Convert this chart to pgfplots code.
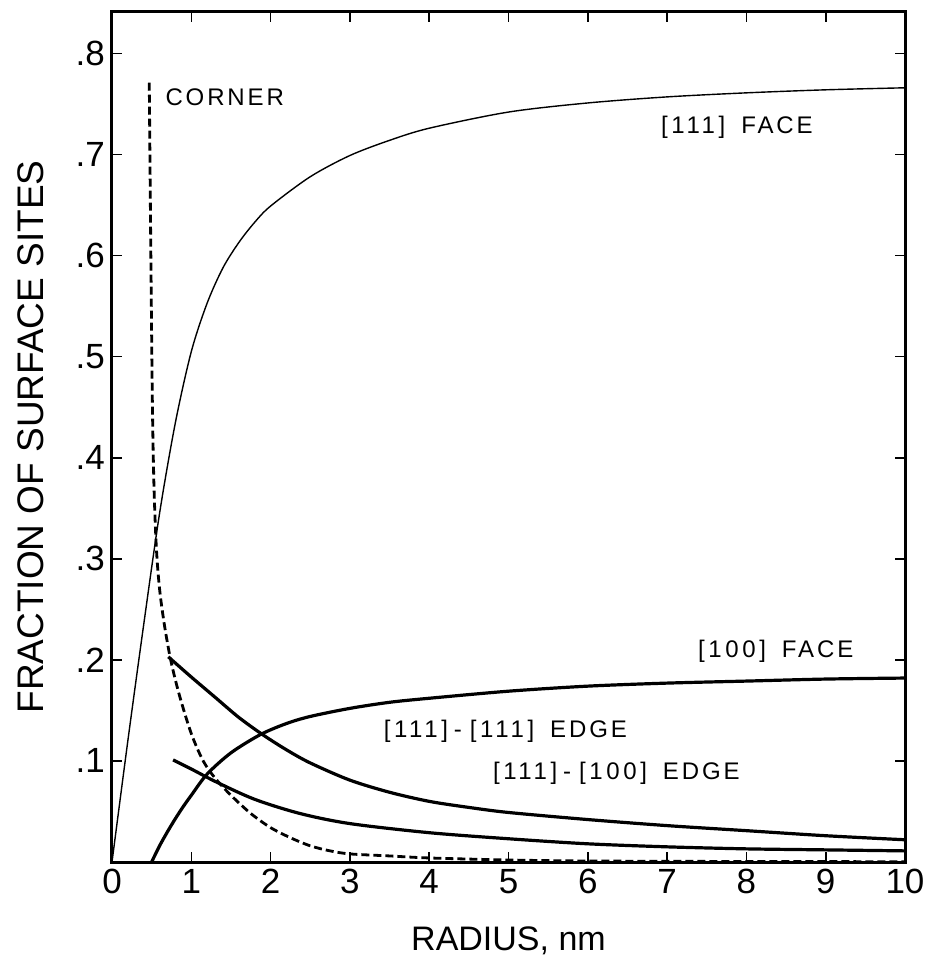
\documentclass[border=0pt]{standalone}
\usepackage{pgfplots}
\pgfplotsset{compat=1.18}
\usepackage{fontspec}
\setmainfont{Liberation Sans}
\newfontfamily\labfont[LetterSpace=12]{Liberation Sans}
\newfontfamily\brfont[LetterSpace=15]{Liberation Sans}
\newcommand{\br}[1]{{\brfont\fontsize{12}{14}\selectfont #1}}
\begin{document}
\begin{tikzpicture}
\begin{axis}[
 width=396.5pt, height=425pt, scale only axis,
 xmin=0, xmax=10, ymin=0, ymax=0.841,
 axis line style={line width=1.5pt},
 tick style={line width=0.8pt, black},
 major tick length=5pt,
 tick align=inside,
 tick pos=both, ticklabel pos=left,
 xtick={0,1,2,3,4,5,6,7,8,9,10}, xticklabels={0,1,2,3,4,5,6,7,8,9,10},
 ytick={0.1,0.2,0.3,0.4,0.5,0.6,0.7,0.8}, yticklabels={.1,.2,.3,.4,.5,.6,.7,.8},
 ticklabel style={font=\fontsize{17.5}{20}\selectfont},
 xlabel={RADIUS, nm}, ylabel={FRACTION OF SURFACE SITES},
 every axis x label/.style={at={(axis description cs:0.5,0)}, yshift=-39.5pt, anchor=center, font=\fontsize{17}{20}\selectfont},
 every axis y label/.style={at={(axis description cs:0,0.5)}, xshift=-40.5pt, rotate=90, anchor=center, font=\fontsize{18.5}{20}\selectfont},
]
% [111] face (thin)
\addplot[black, line width=0.7pt, smooth] coordinates {
(0,0) (0.2,0.12) (0.4,0.235) (0.6,0.345) (0.8,0.435) (1.0,0.505) (1.2,0.553) (1.4,0.588) (1.6,0.613) (1.8,0.633) (2.0,0.649) (2.5,0.678) (3,0.699) (3.5,0.714) (4,0.726) (5,0.742) (6,0.751) (7,0.757) (8,0.761) (9,0.764) (10,0.766)};
% corner (dashed)
\addplot[black, line width=1.4pt, dash pattern=on 4pt off 2pt, smooth, tension=0.5] coordinates {
(0.47,0.771) (0.49,0.6) (0.51,0.45) (0.53,0.37) (0.56,0.31) (0.6,0.27) (0.66,0.235) (0.74,0.2) (0.85,0.165) (1.0,0.127) (1.15,0.10) (1.3,0.083) (1.5,0.066) (1.75,0.048) (2.0,0.034) (2.25,0.024) (2.5,0.016) (2.75,0.011) (3.0,0.008) (3.5,0.006) (4.0,0.004) (5.0,0.002) (6,0.001) (8,0.0005) (10,0.0003)};
% [100] face
\addplot[black, line width=1.6pt, smooth] coordinates {
(0.5,0) (0.6,0.016) (0.7,0.03) (0.8,0.043) (0.9,0.055) (1.0,0.066) (1.2,0.087) (1.5,0.108) (1.87,0.126) (2.2,0.137) (2.5,0.144) (3,0.152) (3.5,0.158) (4,0.162) (5,0.169) (6,0.174) (7,0.177) (8,0.179) (9,0.181) (10,0.182)};
% [111]-[111] edge
\addplot[black, line width=1.6pt, smooth] coordinates {
(0.71,0.203) (1.0,0.183) (1.3,0.163) (1.6,0.143) (1.9,0.126) (2.2,0.111) (2.5,0.098) (3,0.081) (3.5,0.069) (4,0.06) (4.5,0.054) (5,0.049) (6,0.042) (7,0.036) (8,0.031) (9,0.026) (10,0.022)};
% [111]-[100] edge
\addplot[black, line width=1.6pt, smooth] coordinates {
(0.77,0.101) (1.0,0.092) (1.32,0.079) (1.8,0.062) (2.37,0.048) (3,0.038) (4,0.029) (5,0.023) (6,0.018) (7,0.015) (8,0.013) (9,0.012) (10,0.011)};
\node[font=\labfont\fontsize{12}{14}\selectfont, anchor=west, inner sep=0pt] at (axis cs:0.67,0.757) {CORNER};
\node[font=\labfont\fontsize{12}{14}\selectfont, inner sep=0pt] at (axis cs:7.88,0.727) {\br{[111]}\hspace{8pt}FACE};
\node[font=\labfont\fontsize{12}{14}\selectfont, inner sep=0pt] at (axis cs:8.37,0.208) {\br{[100]}\hspace{8pt}FACE};
\node[font=\labfont\fontsize{12}{14}\selectfont, inner sep=0pt] at (axis cs:4.96,0.129) {\br{[111]}\hspace{3pt}-\hspace{4pt}\br{[111]}\hspace{8pt}EDGE};
\node[font=\labfont\fontsize{12}{14}\selectfont, inner sep=0pt] at (axis cs:6.36,0.088) {\br{[111]}\hspace{3pt}-\hspace{4pt}\br{[100]}\hspace{8pt}EDGE};
\coordinate (sw) at (rel axis cs:0,0);
\coordinate (ne) at (rel axis cs:1,1);
\end{axis}
\pgfresetboundingbox
\path[use as bounding box] ([xshift=-56pt,yshift=-49pt]sw) rectangle ([xshift=12pt,yshift=6pt]ne);
\end{tikzpicture}
\end{document}
